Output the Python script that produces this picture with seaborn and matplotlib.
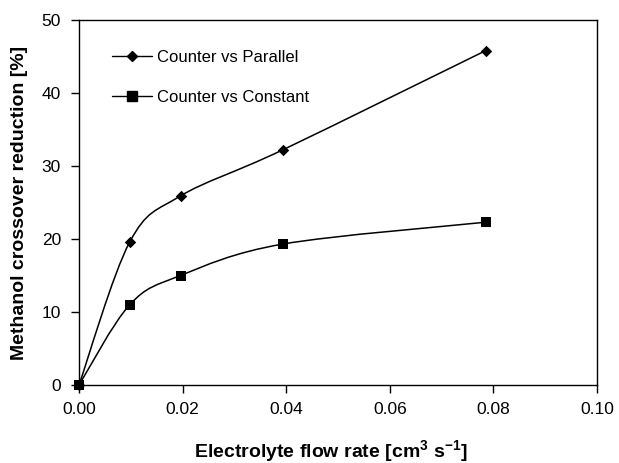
import numpy as np
import matplotlib
matplotlib.use("Agg")
import matplotlib.pyplot as plt
from matplotlib.path import Path
from matplotlib.patches import PathPatch
from matplotlib.lines import Line2D
import seaborn as sns
import pandas as pd

flow_rate = [0.0, 0.0098, 0.0196, 0.0393, 0.0785]
parallel = [0.0, 19.6, 25.9, 32.2, 45.8]
constant = [0.0, 11.0, 15.0, 19.3, 22.3]
labels = ["Counter vs Parallel", "Counter vs Constant"]
xticks = [0.00, 0.02, 0.04, 0.06, 0.08, 0.10]
yticks = [0, 10, 20, 30, 40, 50]

sns.set_style("ticks")
plt.rcParams['font.family'] = ['Liberation Sans', 'DejaVu Sans']
plt.rcParams['mathtext.fontset'] = 'custom'
plt.rcParams['mathtext.rm'] = 'Liberation Sans'
plt.rcParams['mathtext.bf'] = 'Liberation Sans:bold'
plt.rcParams['text.color'] = 'black'
plt.rcParams['axes.labelcolor'] = 'black'

df_par = pd.DataFrame({"x": flow_rate, "y": parallel})
df_con = pd.DataFrame({"x": flow_rate, "y": constant})

fig = plt.figure(figsize=(6.19, 4.63), dpi=100)
ax = fig.add_axes([79 / 619, 1 - 385 / 463, (597 - 79) / 619, (385 - 20) / 463])


def smooth_path(xs, ys):
    P = np.column_stack([xs, ys]).astype(float)
    n = len(P)
    verts = [P[0]]
    codes = [Path.MOVETO]
    for i in range(n - 1):
        p0 = P[max(i - 1, 0)]
        p1 = P[i]
        p2 = P[i + 1]
        p3 = P[min(i + 2, n - 1)]
        c1 = p1 + (p2 - p0) / 6.0
        c2 = p2 - (p3 - p1) / 6.0
        verts += [c1, c2, p2]
        codes += [Path.CURVE4] * 3
    return Path(verts, codes)


for ys in (parallel, constant):
    ax.add_patch(PathPatch(smooth_path(flow_rate, ys), facecolor="none",
                           edgecolor="black", lw=1.1, zorder=2))

sns.scatterplot(data=df_par, x="x", y="y", marker="D", color="black",
                s=34, linewidth=0, legend=False, ax=ax, zorder=3, clip_on=False)
sns.scatterplot(data=df_con, x="x", y="y", marker="s", color="black",
                s=44, linewidth=0, legend=False, ax=ax, zorder=3, clip_on=False)

ax.set_xlim(0, 0.10)
ax.set_ylim(0, 50)
ax.set_xticks(xticks)
ax.set_xticklabels([f"{v:.2f}" for v in xticks], fontsize=12.5)
ax.set_yticks(yticks)
ax.set_yticklabels([str(v) for v in yticks], fontsize=12.5)
ax.tick_params(axis="y", direction="out", length=6, width=1, colors="black", pad=7)
ax.tick_params(axis="x", direction="out", length=6, width=1, colors="black", pad=6)
for sp in ax.spines.values():
    sp.set_visible(True)
    sp.set_color("black")
    sp.set_linewidth(1.0)

ax.set_xlabel("Electrolyte flow rate [cm$^\\mathbf{3}$ s$^\\mathbf{-1}$]",
              fontsize=14, fontweight="bold")
ax.set_ylabel("Methanol crossover reduction [%]", fontsize=14,
              fontweight="bold")
ax.xaxis.set_label_coords(0.487, -0.145)
ax.yaxis.set_label_coords(-0.098, 0.5)

handles = [
    Line2D([], [], color="black", lw=1, marker="D", markersize=5),
    Line2D([], [], color="black", lw=1, marker="s", markersize=6.5),
]
leg = ax.legend(handles, labels, loc="upper left", bbox_to_anchor=(0.0508, 0.937),
                frameon=False, fontsize=12, numpoints=1, handlelength=2.4,
                handletextpad=0.3, labelspacing=1.51, borderaxespad=0)

fig.savefig("out.png", dpi=100)
